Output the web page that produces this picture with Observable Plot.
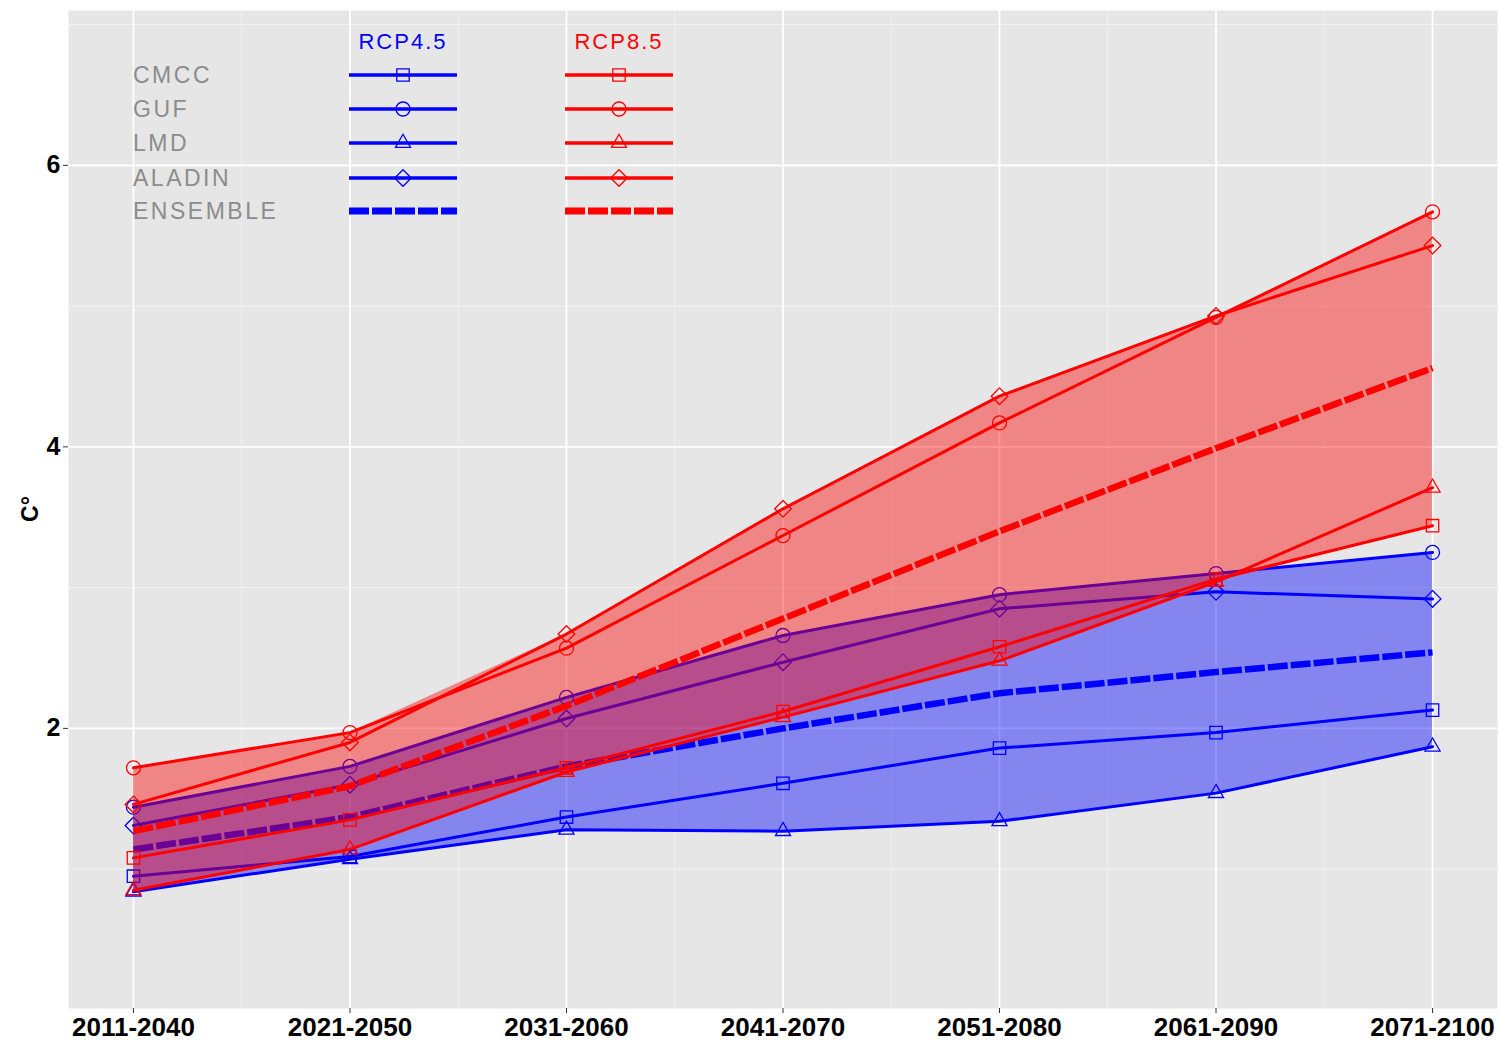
<!DOCTYPE html>
<html><head><meta charset="utf-8">
<script src="https://cdn.jsdelivr.net/npm/d3@7"></script>
<script src="https://cdn.jsdelivr.net/npm/@observablehq/plot@0.6"></script>
<style>
body{margin:0;background:#fff}
#chart svg{font-family:"Liberation Sans",Arial,sans-serif}
#chart g[aria-label$="tick label"] text{font-weight:bold;fill:#000}
</style></head><body><div id="chart"></div>
<script>
const periods = ["2011-2040","2021-2050","2031-2060","2041-2070","2051-2080","2061-2090","2071-2100"];
const models = ["CMCC","GUF","LMD","ALADIN"];
const symbolOf = {CMCC:"square", GUF:"circle", LMD:"triangle", ALADIN:"diamond2"};
const yTicks = [2,4,6];

// RCP4.5
const rcp45_CMCC     = [0.95, 1.09, 1.37, 1.61, 1.86, 1.97, 2.13];
const rcp45_GUF      = [1.44, 1.73, 2.22, 2.66, 2.95, 3.10, 3.25];
const rcp45_LMD      = [0.84, 1.07, 1.28, 1.27, 1.34, 1.54, 1.87];
const rcp45_ALADIN   = [1.31, 1.60, 2.07, 2.47, 2.85, 2.97, 2.92];
const rcp45_ENSEMBLE = [1.14, 1.37, 1.73, 2.00, 2.25, 2.40, 2.54];
// RCP8.5
const rcp85_CMCC     = [1.08, 1.35, 1.72, 2.12, 2.58, 3.06, 3.44];
const rcp85_GUF      = [1.72, 1.97, 2.57, 3.37, 4.17, 4.92, 5.67];
const rcp85_LMD      = [0.85, 1.14, 1.69, 2.08, 2.48, 3.04, 3.71];
const rcp85_ALADIN   = [1.46, 1.90, 2.67, 3.56, 4.36, 4.93, 5.43];
const rcp85_ENSEMBLE = [1.27, 1.59, 2.16, 2.78, 3.40, 3.99, 4.56];

const series = {
  "RCP4.5": {CMCC:rcp45_CMCC, GUF:rcp45_GUF, LMD:rcp45_LMD, ALADIN:rcp45_ALADIN, ENSEMBLE:rcp45_ENSEMBLE},
  "RCP8.5": {CMCC:rcp85_CMCC, GUF:rcp85_GUF, LMD:rcp85_LMD, ALADIN:rcp85_ALADIN, ENSEMBLE:rcp85_ENSEMBLE}
};
const colorOf = {"RCP4.5":"#0000ff", "RCP8.5":"#ff0000"};
const markerR = {square:7, circle:7, triangle:5.6, diamond2:7.5};
const ensDash = "20,3";

function modelRows(sc){
  const rows=[];
  for(const m of models) series[sc][m].forEach((v,i)=>rows.push({model:m,i,value:v,symbol:symbolOf[m]}));
  return rows;
}
function ensRows(sc){ return series[sc].ENSEMBLE.map((v,i)=>({i,value:v})); }
function ribbon(sc){
  return periods.map((p,i)=>{
    const vals = models.map(m=>series[sc][m][i]);
    return {i, lo:d3.min(vals), hi:d3.max(vals)};
  });
}

function scenarioMarks(sc){
  const c = colorOf[sc];
  const rows = modelRows(sc);
  return [
    Plot.areaY(ribbon(sc), {x:"i", y1:"lo", y2:"hi", fill:c, fillOpacity:0.42, curve:"linear"}),
    Plot.line(rows, {x:"i", y:"value", z:"model", stroke:c, strokeWidth:3}),
    Plot.line(ensRows(sc), {x:"i", y:"value", stroke:c, strokeWidth:6.5, strokeDasharray:ensDash, strokeLinecap:"butt", strokeLinejoin:"miter"}),
    ...models.map(m => Plot.dot(rows.filter(d=>d.model===m), {x:"i", y:"value", symbol:symbolOf[m], r:markerR[symbolOf[m]], fill:"none", stroke:c, strokeWidth:1.3}))
  ];
}

const chart = Plot.plot({
  width:1499, height:1042,
  marginLeft:68, marginRight:2, marginTop:10, marginBottom:34,
  x:{type:"linear", domain:[-0.3,6.3]},
  y:{domain:[0.01,7.1]},
  marks:[
    Plot.frame({fill:"#e6e6e6", stroke:"none"}),
    Plot.ruleY([1,3,5,7], {stroke:"#fff", strokeWidth:0.7, strokeOpacity:0.8}),
    Plot.ruleX([0.5,1.5,2.5,3.5,4.5,5.5], {stroke:"#fff", strokeWidth:0.6, strokeOpacity:0.6}),
    Plot.ruleY(yTicks, {stroke:"#fff", strokeWidth:1.8}),
    Plot.ruleX(d3.range(periods.length), {stroke:"#fff", strokeWidth:1.8}),
    ...scenarioMarks("RCP4.5"),
    ...scenarioMarks("RCP8.5"),
    Plot.axisX({ticks:d3.range(periods.length), tickFormat:i=>periods[i], tickSize:5, tickPadding:4, fontSize:26, stroke:"#333", label:null}),
    Plot.axisY({ticks:yTicks, tickSize:5, tickPadding:3, fontSize:25, stroke:"#333", label:null})
  ]
});
document.getElementById("chart").appendChild(chart);

// y-axis title and legend
const svg = d3.select(chart);
svg.append("text").attr("transform","translate(38,509) rotate(-90)")
  .attr("text-anchor","middle").attr("font-size",23).attr("font-weight","bold").attr("fill","#000").text("C°");

const leg = svg.append("g");
const rowsY = [75,109,143,178,211];
const legendLabels = [...models, "ENSEMBLE"];
const cols = [{sc:"RCP4.5", x0:349, x1:457},{sc:"RCP8.5", x0:565, x1:673}];
legendLabels.forEach((lab,k)=>{
  leg.append("text").attr("x",133).attr("y",rowsY[k]).attr("dy","0.36em").attr("text-anchor","start")
    .attr("font-size",23).attr("letter-spacing","2.5px").attr("fill","#8c8c8c").text(lab);
});
const d3sym = {square:d3.symbolSquare, circle:d3.symbolCircle, triangle:d3.symbolTriangle, diamond2:d3.symbolDiamond2};
cols.forEach(col=>{
  const c = colorOf[col.sc];
  const cx = (col.x0+col.x1)/2;
  leg.append("text").attr("x",cx).attr("y",41).attr("dy","0.36em").attr("text-anchor","middle")
    .attr("font-size",22).attr("letter-spacing","2px").attr("fill",c).text(col.sc);
  legendLabels.forEach((lab,k)=>{
    const ens = lab==="ENSEMBLE";
    leg.append("line").attr("x1",col.x0).attr("x2",col.x1).attr("y1",rowsY[k]).attr("y2",rowsY[k])
      .attr("stroke",c).attr("stroke-width",ens?7:3.5).attr("stroke-dasharray",ens?ensDash:null);
    if(!ens){
      const s = symbolOf[lab];
      leg.append("path").attr("transform",`translate(${cx},${rowsY[k]})`)
        .attr("d", d3.symbol(d3sym[s], Math.PI*markerR[s]*markerR[s])())
        .attr("fill","none").attr("stroke",c).attr("stroke-width",1.3);
    }
  });
});
</script></body></html>
